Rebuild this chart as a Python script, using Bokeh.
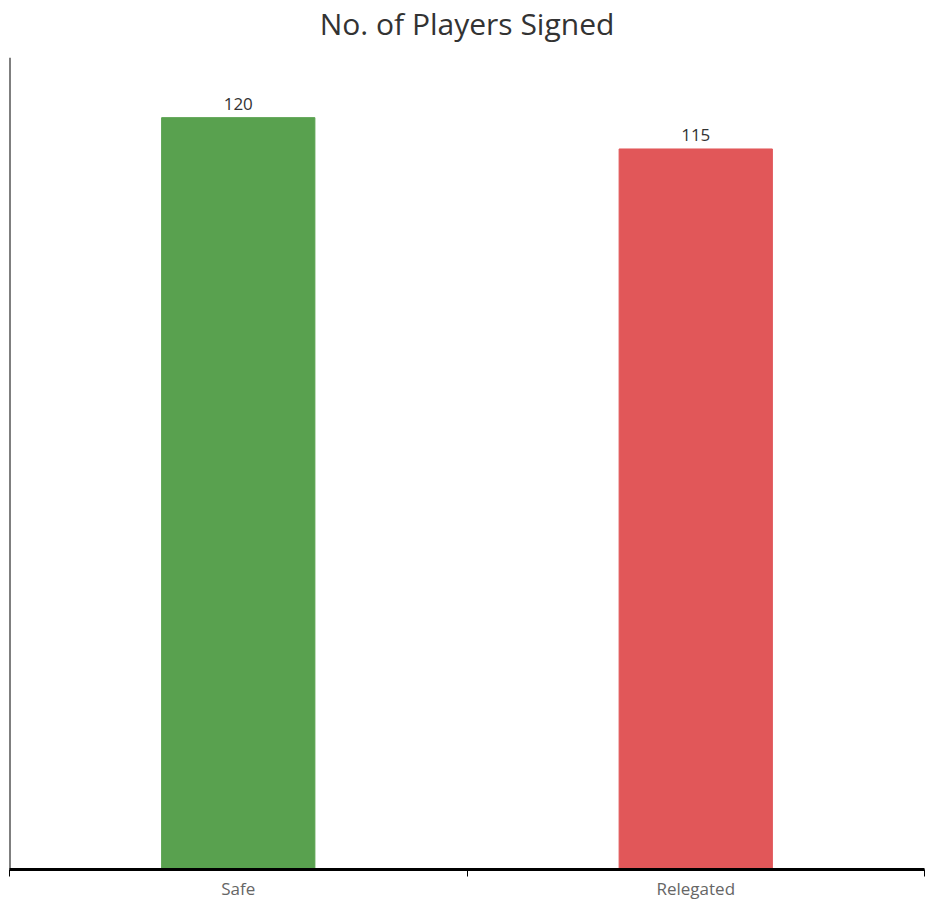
from bokeh.plotting import figure
from bokeh.models import ColumnDataSource, FixedTicker, Span, Range1d, Title
from bokeh.embed import file_html
from bokeh.resources import INLINE
from bokeh.core.properties import value

categories = ["Safe", "Relegated"]
signed = [120, 115]
colors = ["#59A14F", "#E15759"]
title_text = "No. of Players Signed"

xs = [i + 0.5 for i in range(len(categories))]
src = ColumnDataSource(dict(x=xs, top=signed, color=colors,
                            label=[str(v) for v in signed]))

p = figure(width=926, height=902, output_backend="svg", toolbar_location=None,
           x_range=Range1d(0, len(categories)), y_range=Range1d(0, 129.6),
           y_axis_location=None, min_border_left=9, min_border_right=2,
           min_border_top=57, min_border_bottom=30)
p.outline_line_color = None
p.grid.visible = False
p.background_fill_color = "white"

# spacer between plot frame and title (closest to frame)
p.add_layout(Title(text=" ", text_font_size="1px", standoff=11), "above")
p.add_layout(Title(text=title_text, align="center", text_font="Open Sans",
                   text_font_style="normal", text_font_size="30px",
                   text_color="#333333", standoff=0), "above")

p.vbar(x="x", top="top", bottom=0, width=0.335, color="color", source=src)
p.text(x="x", y="top", text="label", source=src, text_align="center",
       text_baseline="bottom", y_offset=-8, text_font=value("Open Sans"),
       text_font_size="17px", text_color="#333333")

p.add_layout(Span(location=0, dimension="height", line_color="black", line_width=2))

ax = p.xaxis[0]
ax.ticker = FixedTicker(ticks=xs, minor_ticks=list(range(len(categories) + 1)))
ax.major_label_overrides = {x: c for x, c in zip(xs, categories)}
ax.major_tick_line_color = None
ax.major_tick_out = 0
ax.major_tick_in = 0
ax.minor_tick_out = 7
ax.minor_tick_in = 0
ax.minor_tick_line_color = "black"
ax.minor_tick_line_width = 1
ax.axis_line_color = "black"
ax.axis_line_width = 3
ax.major_label_standoff = 0
ax.major_label_text_font = "Open Sans"
ax.major_label_text_font_size = "17px"
ax.major_label_text_color = "#666666"

open("out.html", "w").write(file_html(p, INLINE))
